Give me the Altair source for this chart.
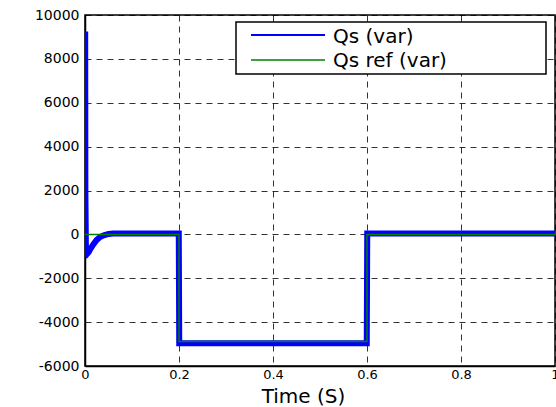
import altair as alt
import pandas as pd

# Qs (var) measured
t_qs = [0.0, 0.0004, 0.0008, 0.002, 0.004, 0.008, 0.012, 0.018, 0.025, 0.032, 0.04, 0.05, 0.06, 0.08, 0.12, 0.16, 0.1995,
        0.2005, 0.25, 0.3, 0.4, 0.5, 0.5995, 0.6005, 0.7, 0.8, 0.9, 1.0]
qs = [0, 9250, 2000, -850, -900, -800, -650, -450, -250, -120, -40, 20, 40, 40, 40, 40, 40,
      -4960, -4960, -4960, -4960, -4960, -4960, 40, 40, 40, 40, 40]

# Qs ref (var)
t_ref = [0.0, 0.2, 0.2, 0.6, 0.6, 1.0]
qs_ref = [0, 0, -4880, -4880, 0, 0]

series_names = ["Qs (var)", "Qs ref (var)"]
series_colors = ["#0000FF", "#007F00"]

x_ticks = [0, 0.2, 0.4, 0.6, 0.8, 1]
y_ticks = [-6000, -4000, -2000, 0, 2000, 4000, 6000, 8000, 10000]

df_qs = pd.DataFrame({"t": t_qs, "v": qs, "s": series_names[0], "o": range(len(t_qs))})
df_ref = pd.DataFrame({"t": t_ref, "v": qs_ref, "s": series_names[1], "o": range(len(t_ref))})

FONT = "DejaVu Sans"

xenc = alt.X("t:Q", scale=alt.Scale(domain=[0, 1], nice=False),
             axis=alt.Axis(values=x_ticks, format="~g", title="Time (S)", titleFontSize=20,
                           titleFont=FONT, titleFontWeight="normal", titleColor="black",
                           titleX=218, titleY=36, titleBaseline="alphabetic",
                           labelFontSize=13, labelFont=FONT, labelColor="black",
                           labelPadding=2, labelFlush=False,
                           grid=True, gridDash=[6, 5], gridColor="#000000", gridOpacity=0.8,
                           domainColor="black", domainWidth=1.5, ticks=False))
yenc = alt.Y("v:Q", scale=alt.Scale(domain=[-6000, 10000], nice=False),
             axis=alt.Axis(values=y_ticks, title=None,
                           labelExpr="datum.value < 0 ? '-' + format(-datum.value, 'd') : format(datum.value, 'd')",
                           labelFontSize=14, labelFont=FONT, labelColor="black",
                           labelPadding=6, labelFlush=False,
                           grid=True, gridDash=[6, 5], gridColor="#000000", gridOpacity=0.8,
                           domainColor="black", domainWidth=1.5, ticks=False))

cscale = alt.Scale(domain=series_names, range=series_colors)

line_qs = alt.Chart(df_qs).mark_line(strokeWidth=6, clip=True).encode(
    x=xenc, y=yenc, color=alt.Color("s:N", scale=cscale, legend=None), order="o:Q")
line_ref = alt.Chart(df_ref).mark_line(strokeWidth=1.5, clip=True).encode(
    x="t:Q", y="v:Q", color=alt.Color("s:N", scale=cscale, legend=None), order="o:Q")

# manual legend box (MATLAB style)
one = pd.DataFrame({"a": [0]})
leg_box = alt.Chart(one).mark_rect(fill="white", stroke="black", strokeWidth=1.5).encode(
    x=alt.value(151), x2=alt.value(461), y=alt.value(7), y2=alt.value(59))
leg_l1 = alt.Chart(one).mark_rule(color=series_colors[0], strokeWidth=2).encode(
    x=alt.value(166), x2=alt.value(240), y=alt.value(20))
leg_l2 = alt.Chart(one).mark_rule(color=series_colors[1], strokeWidth=1.5).encode(
    x=alt.value(166), x2=alt.value(240), y=alt.value(45))
leg_t1 = alt.Chart(one).mark_text(align="left", baseline="alphabetic", font=FONT, fontSize=20,
                                  color="black").encode(
    x=alt.value(248), y=alt.value(28), text=alt.value(series_names[0]))
leg_t2 = alt.Chart(one).mark_text(align="left", baseline="alphabetic", font=FONT, fontSize=20,
                                  color="black").encode(
    x=alt.value(248), y=alt.value(52), text=alt.value(series_names[1]))

chart = alt.layer(line_qs, line_ref, leg_box, leg_l1, leg_l2, leg_t1, leg_t2).properties(
    width=470, height=351,
    autosize=alt.AutoSizeParams(type="none"),
    padding={"left": 85, "top": 15, "right": 1, "bottom": 41},
    background="white",
).configure_view(stroke="black", strokeWidth=1.5)

chart.save("out.html", embed_options={"renderer": "svg", "actions": False})
